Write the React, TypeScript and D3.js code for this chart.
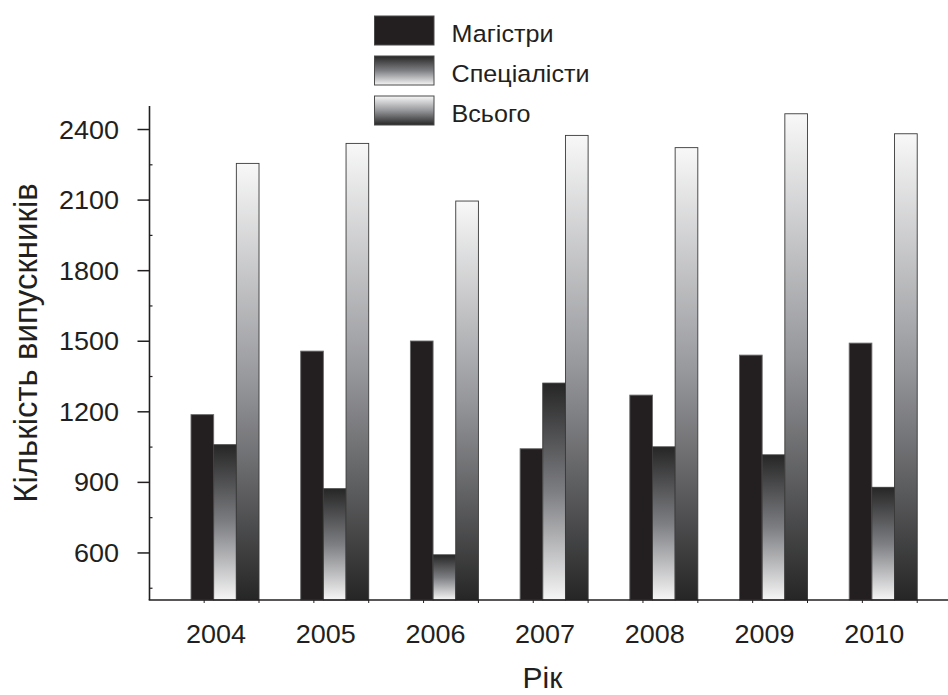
import React from "react";
import * as d3 from "d3";

const years = ["2004", "2005", "2006", "2007", "2008", "2009", "2010"];
const seriesNames = ["Магістри", "Спеціалісти", "Всього"];
const masters = [1188, 1458, 1501, 1043, 1271, 1441, 1492];
const specialists = [1060, 873, 592, 1322, 1051, 1017, 879];
const total = [2256, 2341, 2096, 2375, 2323, 2467, 2382];
const yTicks = [600, 900, 1200, 1500, 1800, 2100, 2400];
const yMinorTicks = [450, 750, 1050, 1350, 1650, 1950, 2250];
const yTitle = "Кількість випускників";
const xTitle = "Рік";

const W = 948;
const H = 695;
const FONT = "'Liberation Sans', Arial, Helvetica, sans-serif";
const INK = "#231f20";

function T(props: {
  x: number;
  y: number;
  sx?: number;
  size: number;
  anchor?: "start" | "middle" | "end";
  dy?: string;
  children: React.ReactNode;
}) {
  const { x, y, sx = 1, size, anchor = "start", dy, children } = props;
  return (
    <text
      transform={`translate(${x},${y}) scale(${sx},1)`}
      textAnchor={anchor}
      dy={dy}
      fontFamily={FONT}
      fontSize={size}
      fill={INK}
    >
      {children}
    </text>
  );
}

export default function App() {
  const y = d3.scaleLinear().domain([400, 2500]).range([600, 106]);
  const pi = 0.38;
  const step = 109.7;
  const r0 = 191 - (pi / 2) * step;
  const x = d3
    .scaleBand<string>()
    .domain(years)
    .range([r0, r0 + years.length * step])
    .paddingInner(pi)
    .paddingOuter(pi / 2);
  const bw = x.bandwidth();
  const sub = d3.scaleBand<string>().domain(["m", "s", "t"]).range([0, bw]).padding(0);
  const axisX0 = 149.5;
  const axisY0 = y(400);
  const fills = ["url(#gBlack)", "url(#gSpec)", "url(#gTotal)"];
  const keys = ["m", "s", "t"];
  const data = [masters, specialists, total];

  const xTicks: number[] = [];
  years.forEach((yr) => {
    const end = (x(yr) as number) + bw;
    xTicks.push(end - x.step() / 2, end);
  });

  return (
    <svg
      width={W}
      height={H}
      viewBox={`0 0 ${W} ${H}`}
      style={{ position: "absolute", left: 0, top: 0, background: "#fff" }}
    >
      <defs>
        <linearGradient id="gBlack" x1="0" y1="0" x2="0" y2="1">
          <stop offset="0" stopColor={INK} />
          <stop offset="1" stopColor={INK} />
        </linearGradient>
        <linearGradient id="gSpec" x1="0" y1="0" x2="0" y2="1">
          <stop offset="0" stopColor="#262626" />
          <stop offset="0.5" stopColor="#7d7e82" />
          <stop offset="1" stopColor="#f6f6f6" />
        </linearGradient>
        <linearGradient id="gTotal" x1="0" y1="0" x2="0" y2="1">
          <stop offset="0" stopColor="#f8f8f8" />
          <stop offset="0.5" stopColor="#96979b" />
          <stop offset="1" stopColor="#262626" />
        </linearGradient>
      </defs>

      {/* bars */}
      {years.map((yr, i) => (
        <g key={yr} transform={`translate(${x(yr)},0)`}>
          {keys.map((k, j) => {
            const v = data[j][i];
            return (
              <rect
                key={k}
                x={sub(k)}
                y={y(v)}
                width={sub.bandwidth()}
                height={axisY0 - y(v)}
                fill={fills[j]}
                stroke={j === 0 ? "#6a6a6a" : "#3a3a3a"}
                strokeWidth={0.9}
              />
            );
          })}
        </g>
      ))}

      {/* y axis */}
      <line x1={axisX0} x2={axisX0} y1={y(2500)} y2={axisY0} stroke={INK} strokeWidth={1.6} />
      {yTicks.map((t) => (
        <g key={t}>
          <line x1={axisX0 - 12} x2={axisX0} y1={y(t)} y2={y(t)} stroke={INK} strokeWidth={1.5} />
          <T x={119} y={y(t)} dy="0.36em" anchor="end" size={25} sx={1.08}>
            {t}
          </T>
        </g>
      ))}
      {yMinorTicks.map((t) => (
        <line key={t} x1={axisX0} x2={axisX0 + 3} y1={y(t)} y2={y(t)} stroke={INK} strokeWidth={1.2} />
      ))}

      {/* x axis */}
      <line x1={axisX0 - 0.8} x2={W} y1={axisY0} y2={axisY0} stroke={INK} strokeWidth={1.6} />
      {xTicks.map((t, i) => (
        <line key={i} x1={t} x2={t} y1={axisY0} y2={axisY0 + 3} stroke={INK} strokeWidth={1} />
      ))}
      {years.map((yr) => (
        <T key={yr} x={(x(yr) as number) + bw / 2 - 9} y={642.5} anchor="middle" size={25} sx={1.08}>
          {yr}
        </T>
      ))}

      {/* axis titles */}
      <T x={542.5} y={688} anchor="middle" size={30}>
        {xTitle}
      </T>
      <text
        transform={`translate(37,343) rotate(-90)`}
        textAnchor="middle"
        fontFamily={FONT}
        fontSize={33}
        fill={INK}
      >
        {yTitle}
      </text>

      {/* legend */}
      {seriesNames.map((name, i) => (
        <g key={name} transform={`translate(374.5,${16 + i * 40})`}>
          <rect width={59.5} height={29} fill={fills[i]} stroke="#4a4a4a" strokeWidth={1} />
          <T x={77} y={25.5} size={23.5} sx={1.07}>
            {name}
          </T>
        </g>
      ))}
    </svg>
  );
}
